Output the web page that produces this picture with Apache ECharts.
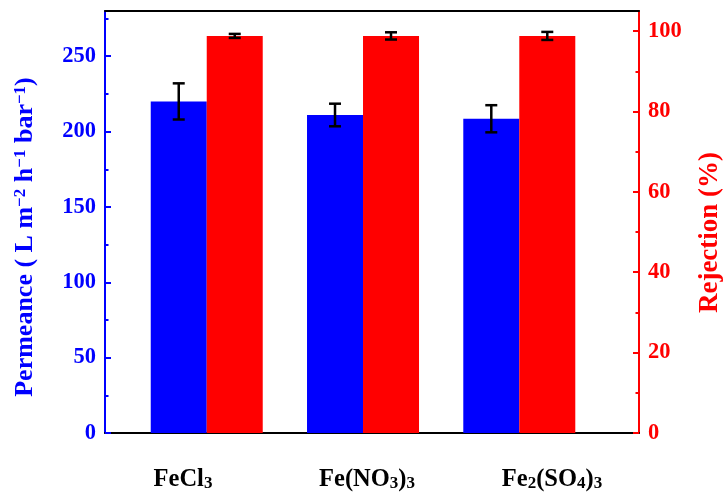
<!DOCTYPE html>
<html>
<head>
<meta charset="utf-8">
<script src="https://cdn.jsdelivr.net/npm/echarts@6/dist/echarts.min.js"></script>
<style>html,body{margin:0;padding:0;background:#fff;}#c{width:726px;height:500px;}</style>
</head>
<body>
<div id="c"></div>
<script>
// ---- data ----
const categories = ['FeCl{s|3}', 'Fe(NO{s|3}){s|3}', 'Fe{s|2}(SO{s|4}){s|3}'];
const permeance = [220, 211, 208.5];
const permeanceErr = [12, 7.5, 9];
const rejection = [98.8, 98.8, 98.8];
const rejectionErr = [0.5, 0.9, 1.0];
const leftTicks = [0, 50, 100, 150, 200, 250];
const leftMinor = [25, 75, 125, 175, 225, 275];
const rightTicks = [0, 20, 40, 60, 80, 100];
const rightMinor = [10, 30, 50, 70, 90];

// ---- style ----
const BLUE = '#0000ff', RED = '#ff0000';
const FONT = '"Liberation Serif", "Times New Roman", serif';
const BAR_W = 56;
const LABEL_SHIFT = [-11, -5, 2]; // px horizontal nudge of category labels

const chart = echarts.init(document.getElementById('c'), null, {renderer: 'canvas'});

function errorSeries(name, vals, errs, yAxisIndex, side) {
  return {
    type: 'custom',
    name: name,
    xAxisIndex: 1,
    yAxisIndex: yAxisIndex,
    z: 10,
    data: vals.map((v, i) => [i + 1, v, errs[i]]),
    renderItem: function (params, api) {
      const x = api.value(0), y = api.value(1), e = api.value(2);
      const top = api.coord([x, y + e]);
      const bot = api.coord([x, y - e]);
      const cx = top[0] + side * BAR_W / 2;
      const cap = 6;
      const style = {stroke: '#000', lineWidth: 2.5, fill: null};
      return {
        type: 'group',
        children: [
          {type: 'line', shape: {x1: cx, y1: top[1], x2: cx, y2: bot[1]}, style: style},
          {type: 'line', shape: {x1: cx - cap, y1: top[1], x2: cx + cap, y2: top[1]}, style: style},
          {type: 'line', shape: {x1: cx - cap, y1: bot[1], x2: cx + cap, y2: bot[1]}, style: style}
        ]
      };
    }
  };
}

const labelRich = {s: {fontSize: 17, verticalAlign: 'bottom', lineHeight: 24}};
LABEL_SHIFT.forEach((s, i) => { labelRich['g' + i] = {width: Math.abs(s) * 2, height: 1}; });

const option = {
  animation: false,
  backgroundColor: '#fff',
  grid: {left: 105, right: 87, top: 11, bottom: 67, containLabel: false, outerBoundsMode: 'none'},
  xAxis: [
    {
      type: 'category',
      data: categories,
      position: 'bottom',
      boundaryGap: true,
      axisLine: {show: true, lineStyle: {color: '#000', width: 2}},
      axisTick: {show: false},
      axisLabel: {
        interval: 0,
        margin: 34,
        color: '#000',
        fontFamily: FONT,
        fontWeight: 'bold',
        fontSize: 24.5,
        rich: labelRich,
        formatter: function (v, i) {
          const s = LABEL_SHIFT[i] || 0;
          if (s < 0) return v + '{g' + i + '|}';
          if (s > 0) return '{g' + i + '|}' + v;
          return v;
        }
      },
      splitLine: {show: false}
    },
    {
      type: 'value',
      position: 'top',
      min: 0.349,
      max: 3.766,
      axisLine: {show: true, onZero: false, lineStyle: {color: '#000', width: 2}},
      axisTick: {show: false},
      axisLabel: {show: false},
      splitLine: {show: false}
    }
  ],
  yAxis: [
    {
      type: 'value',
      position: 'left',
      min: 0, max: 280,
      interval: 50,
      name: 'Permeance ( L m{p|−2} h{p|−1} bar{p|−1})',
      nameLocation: 'middle',
      nameGap: 67,
      nameTextStyle: {
        color: BLUE, fontFamily: FONT, fontWeight: 'bold', fontSize: 26,
        padding: [0, 30, 0, 0],
        rich: {p: {fontSize: 17, verticalAlign: 'top'}}
      },
      axisLine: {show: true, lineStyle: {color: BLUE, width: 2}},
      axisTick: {show: true, inside: true, length: 6, lineStyle: {color: BLUE, width: 2}, customValues: leftTicks},
      axisLabel: {color: BLUE, fontFamily: FONT, fontWeight: 'bold', fontSize: 22.5, margin: 9, customValues: leftTicks},
      splitLine: {show: false}
    },
    {
      type: 'value',
      position: 'right',
      min: 0, max: 105,
      interval: 20,
      name: 'Rejection (%)',
      nameLocation: 'middle',
      nameGap: 58,
      nameRotate: 90,
      nameTextStyle: {color: RED, fontFamily: FONT, fontWeight: 'bold', fontSize: 27, padding: [0, 21, 0, 0]},
      axisLine: {show: true, lineStyle: {color: RED, width: 2}},
      axisTick: {show: true, inside: true, length: 6, lineStyle: {color: RED, width: 2}, customValues: rightTicks},
      axisLabel: {color: RED, fontFamily: FONT, fontWeight: 'bold', fontSize: 22.5, margin: 9, customValues: rightTicks},
      splitLine: {show: false}
    },
    {
      type: 'value',
      position: 'left',
      min: 0, max: 280,
      axisLine: {show: false},
      axisTick: {show: true, inside: true, length: 3.5, lineStyle: {color: BLUE, width: 2}, customValues: leftMinor},
      axisLabel: {show: false},
      splitLine: {show: false}
    },
    {
      type: 'value',
      position: 'right',
      min: 0, max: 105,
      axisLine: {show: false},
      axisTick: {show: true, inside: true, length: 3.5, lineStyle: {color: RED, width: 2}, customValues: rightMinor},
      axisLabel: {show: false},
      splitLine: {show: false}
    }
  ],
  series: [
    {
      type: 'bar',
      name: 'Permeance',
      xAxisIndex: 1,
      yAxisIndex: 0,
      barWidth: BAR_W,
      barGap: '0%',
      itemStyle: {color: BLUE},
      data: permeance.map((v, i) => [i + 1, v])
    },
    {
      type: 'bar',
      name: 'Rejection',
      xAxisIndex: 1,
      yAxisIndex: 1,
      barWidth: BAR_W,
      barGap: '0%',
      itemStyle: {color: RED},
      data: rejection.map((v, i) => [i + 1, v])
    },
    errorSeries('PermErr', permeance, permeanceErr, 0, -1),
    errorSeries('RejErr', rejection, rejectionErr, 1, 1)
  ]
};
chart.setOption(option);
</script>
</body>
</html>
